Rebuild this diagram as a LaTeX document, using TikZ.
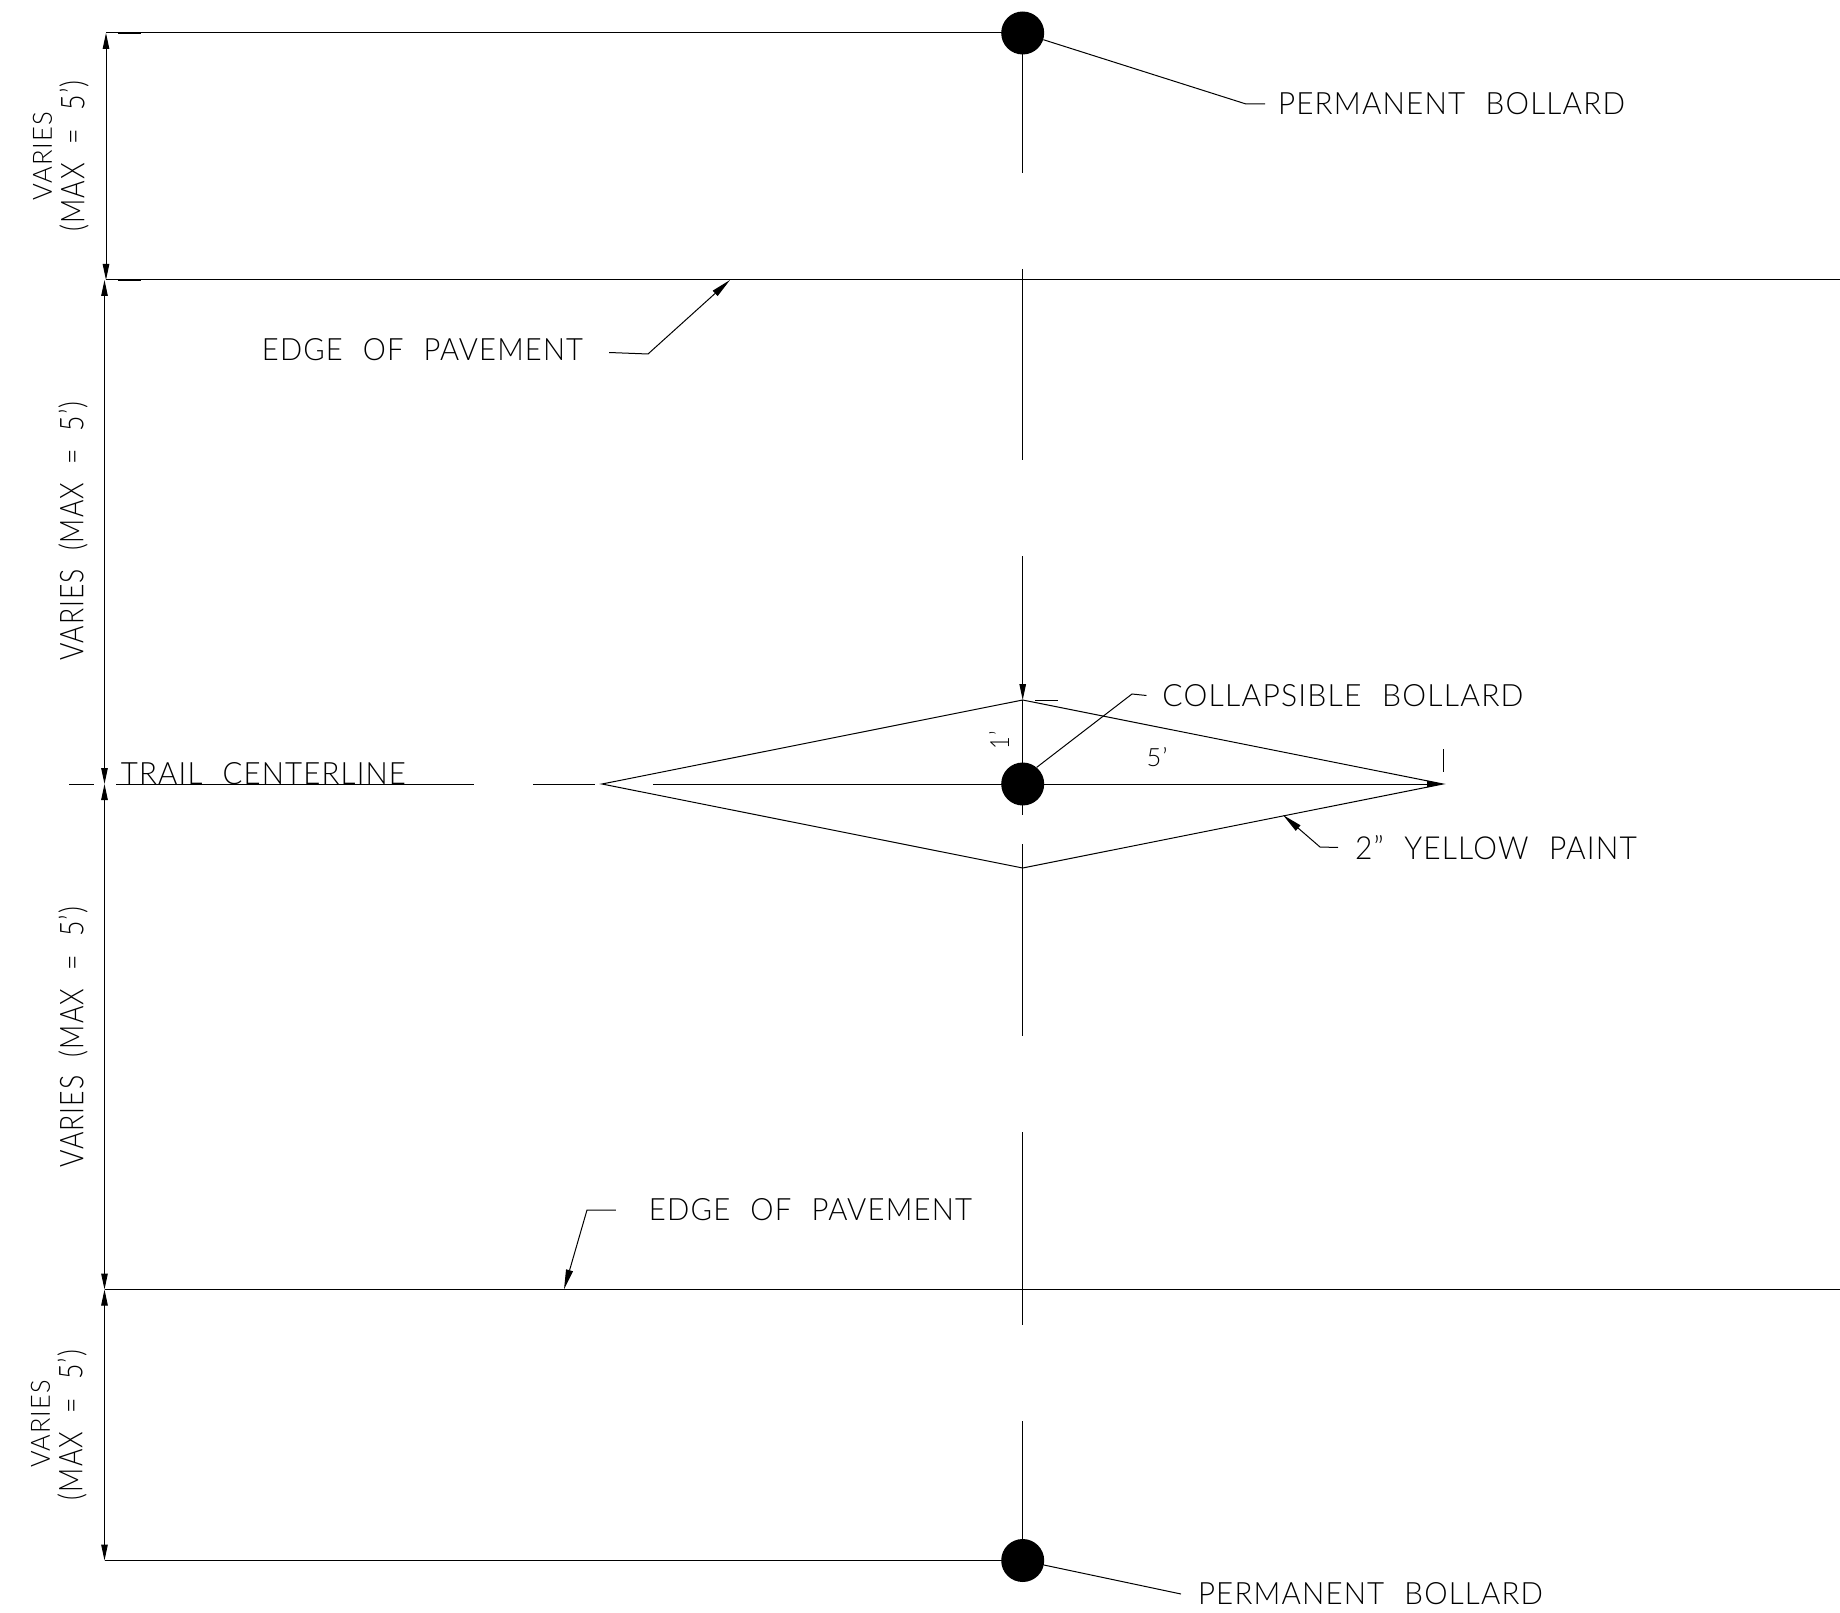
\documentclass[tikz,border=0pt]{standalone}
\usepackage{fontspec}
\usepackage{graphicx}
\usetikzlibrary{arrows.meta}
\newfontfamily\cadfont[WordSpace=2.2,LetterSpace=4]{Lato Light}
\newcommand{\cadbox}[3]{\resizebox{#1pt}{#2pt}{\cadfont #3}}
\tikzset{
  cad/.style={line width=1pt,black,line cap=butt,line join=miter},
  tick/.style={line width=1.6pt,black},
  dimarrow/.style={cad,{Triangle[length=16pt,width=6.5pt]}-{Triangle[length=16pt,width=6.5pt]}},
  leaderarrow/.style={cad,-{Triangle[length=20pt,width=7pt]}},
  bollard/.style={circle,fill=black,inner sep=0pt,minimum size=43pt},
  label/.style={inner sep=0pt,outer sep=0pt,black},
}
\begin{document}
\begin{tikzpicture}[x=1pt,y=-1pt]
\useasboundingbox[fill=white] (0,0) rectangle (1840,1613);
% bollards
\node[bollard] (pb1) at (1022.7,33) {};
\node[bollard] (cb) at (1022.7,784) {};
\node[bollard] (pb2) at (1022.7,1560.5) {};
% horizontal lines
\coordinate (dimA) at (106,33);
\coordinate (dimB) at (106,280);
\coordinate (dimBb) at (104.5,280);
\coordinate (dimC) at (106,784);
\coordinate (dimCb) at (104.5,784);
\coordinate (dimD) at (104.5,1289.5);
\coordinate (dimE) at (104.5,1560.5);
\draw[cad] (dimA) -- (pb1.center);
\draw[cad] (dimB) -- (1840,280);
\draw[cad] (dimD) -- (1840,1289.5);
\draw[cad] (dimE) -- (pb2.center);
\draw[tick] (118,33) -- (141,33);
\draw[tick] (118,280) -- (141,280);
\draw[tick] (116,1289.5) -- (139,1289.5);
\draw[tick] (116,1560.5) -- (139,1560.5);
% vertical dimensions
\draw[dimarrow] (dimA) -- (dimB);
\draw[dimarrow] (dimBb) -- (dimCb);
\draw[dimarrow] (dimCb) -- (dimD);
\draw[dimarrow] (dimD) -- (dimE);
% centerline across
\draw[cad] (69,784) -- (94,784);
\draw[cad] (116,784) -- (474,784);
\draw[cad] (533,784) -- (595,784);
\coordinate (tipR) at (1443,784);
\draw[cad,-{Triangle[length=16pt,width=6.5pt]}] (653,784) -- (tipR);
\draw[cad] (1443,749) -- (1443,772);
% vertical centerline
\coordinate (diaT) at (1022.7,700);
\coordinate (diaB) at (1022.7,868);
\coordinate (diaL) at (602,784);
\draw[cad] (pb1.center) -- (1022.7,173);
\draw[cad] (1022.7,269) -- (1022.7,460);
\draw[cad,-{Triangle[length=16pt,width=6.5pt]}] (1022.7,556) -- (diaT);
\draw[cad] (diaT) -- (cb.center) -- (1022.7,815);
\draw[cad] (1022.7,844) -- (1022.7,1036);
\draw[cad] (1022.7,1132) -- (1022.7,1325);
\draw[cad] (1022.7,1421) -- (pb2.center);
% diamond
\draw[cad] (diaL) -- (diaT) -- (tipR) -- (diaB) -- cycle;
\draw[cad] (1035,700) -- (1058,700);
% labels
\node[label,anchor=center] (t1) at (1451.5,104) {\cadbox{347}{22}{PERMANENT BOLLARD}};
\node[label,anchor=center] (t2) at (422.5,349.5) {\cadbox{321}{22}{EDGE OF PAVEMENT}};
\node[label,anchor=center] (t3) at (263.5,773.5) {\cadbox{285}{22}{TRAIL CENTERLINE}};
\node[label,anchor=center] (t4) at (1343,695.5) {\cadbox{361}{22}{COLLAPSIBLE BOLLARD}};
\node[label,anchor=center] (t5) at (1496,847.5) {\cadbox{282}{24}{2” YELLOW PAINT}};
\node[label,anchor=center] (t6) at (810.5,1210) {\cadbox{323}{22}{EDGE OF PAVEMENT}};
\node[label,anchor=center] (t7) at (1370.5,1594) {\cadbox{345}{22}{PERMANENT BOLLARD}};
\node[label,anchor=center] (d5) at (1157,757) {\cadbox{21}{19}{5’}};
\node[label,anchor=center,rotate=90] (d1) at (999,740) {\cadbox{18}{20}{1’}};
\node[label,anchor=center,rotate=90] (v1a) at (42.5,156) {\cadbox{88}{19}{VARIES}};
\node[label,anchor=center,rotate=90] (v1b) at (74,156) {\cadbox{151}{25}{(MAX = 5’)}};
\node[label,anchor=center,rotate=90] (v2) at (73,531) {\cadbox{259}{25}{VARIES (MAX = 5’)}};
\node[label,anchor=center,rotate=90] (v3) at (73,1037) {\cadbox{260}{25}{VARIES (MAX = 5’)}};
\node[label,anchor=center,rotate=90] (v4a) at (40.5,1424) {\cadbox{87}{19}{VARIES}};
\node[label,anchor=center,rotate=90] (v4b) at (72,1425) {\cadbox{150}{25}{(MAX = 5’)}};
% leaders
\draw[cad] (pb1.-18) -- (1246,104) -- ([xshift=-13pt]t1.west);
\draw[leaderarrow] ([shift={(26,3)}]t2.east) -- (648,354) -- (730,280);
\draw[cad] (cb.50) -- (1132,694) -- ([xshift=-16pt]t4.west);
\draw[leaderarrow] ([xshift=-17pt]t5.west) -- (1320,847) -- (1283,815);
\draw[leaderarrow] ([xshift=-33pt]t6.west) -- (587,1210) -- (564,1289.5);
\draw[cad] (pb2.-12) -- ([xshift=-17pt]t7.west);
\end{tikzpicture}
\end{document}
